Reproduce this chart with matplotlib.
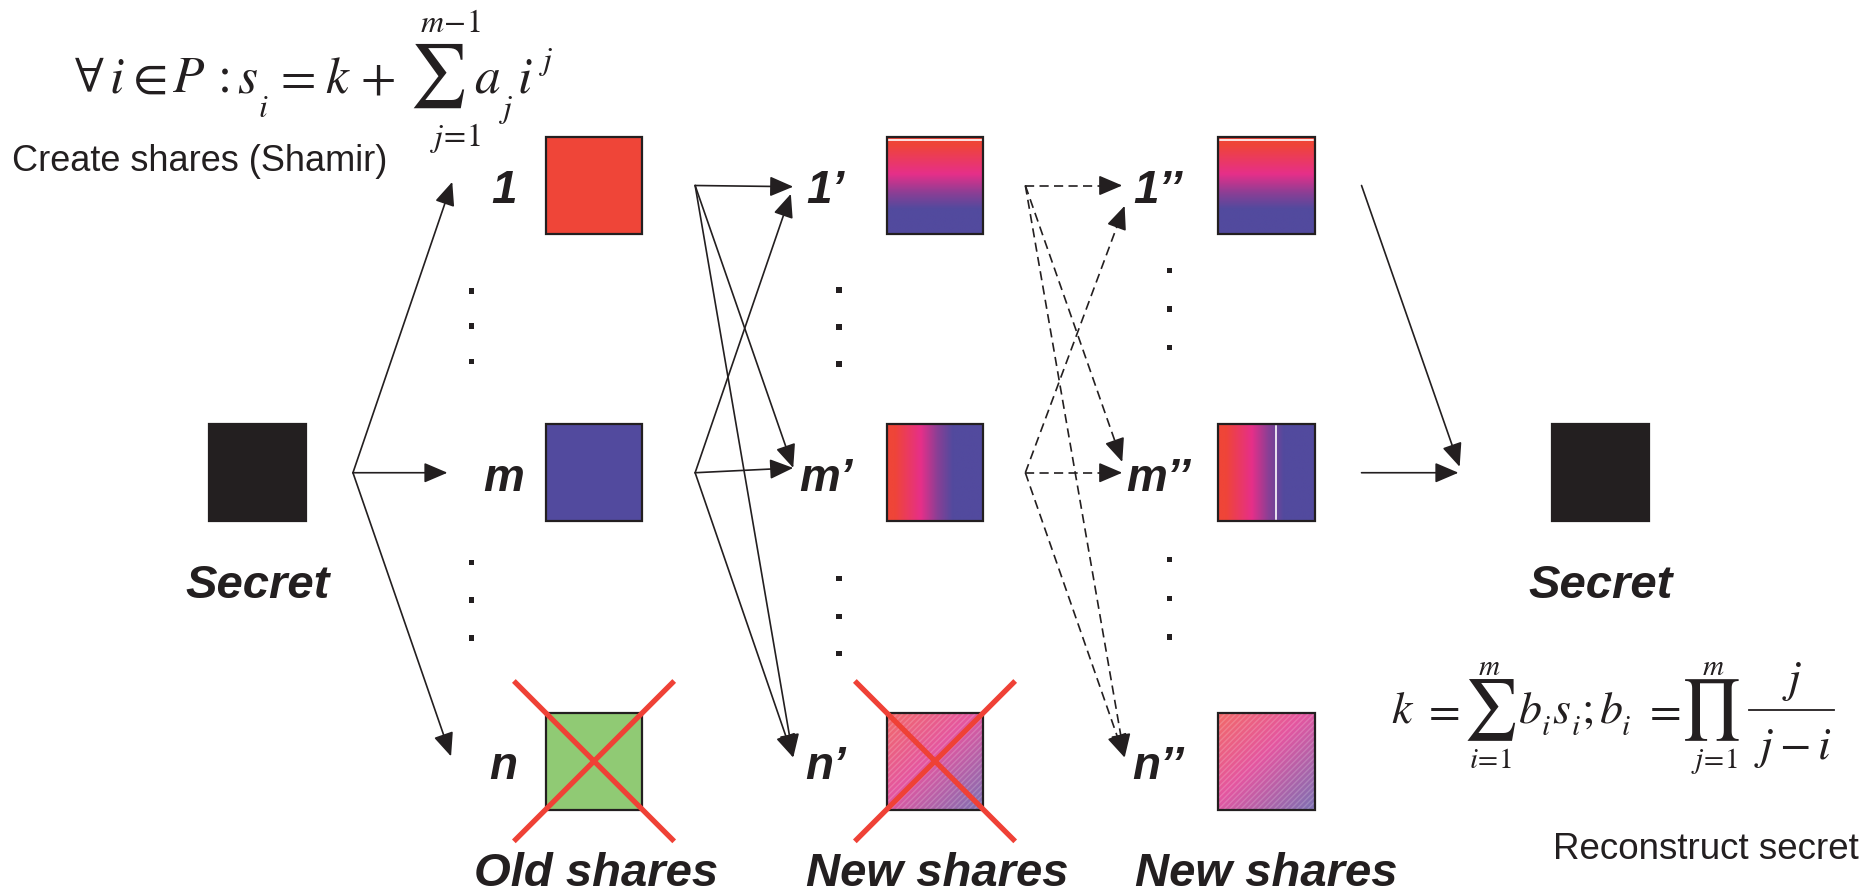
import matplotlib.pyplot as plt
import numpy as np
from matplotlib.patches import Rectangle
from matplotlib.colors import LinearSegmentedColormap
from matplotlib.textpath import TextPath
from matplotlib.font_manager import FontProperties

plt.rcParams['mathtext.fontset'] = 'stix'

# canvas units (reference drawn at 1568 x 747)
W, H = 1568, 747
SQ = 81
PT = 1876 / W * 0.72  # points per canvas unit

row_y = [155, 395, 636]
col_x = [456, 741, 1018]
secret_x = [175, 1297]
col_labels = [["1", "m", "n"], ["1\u2019", "m\u2019", "n\u2019"], ["1\u2019\u2019", "m\u2019\u2019", "n\u2019\u2019"]]
label_x = [421, 690, 968]
dots_x = [394, 701, 977]
dots_y = [[243, 272, 302, 470, 501, 533],
          [242, 273, 304, 483, 515, 546],
          [226, 258, 290, 467, 500, 532]]
group_titles = ["Old shares", "New shares", "New shares"]
group_x = [498, 783, 1058]

ink = "#231f20"
red = "#ef4538"
blue = "#524a9e"
green = "#90ca74"
pink = "#e62f89"
purple = "#8a3f95"
xred = "#ef4136"

fig = plt.figure(figsize=(18.76, 8.94), dpi=100)
ax = fig.add_axes([0, 0, 1, 1])


def square(x, y, face):
    ax.add_patch(Rectangle((x, y), SQ, SQ, facecolor=face, edgecolor=ink, lw=1.6, zorder=3))


def grad_square(x, y, colors, stops, how, white=None, hatch=False):
    cmap = LinearSegmentedColormap.from_list("g", list(zip(stops, colors)))
    t = np.linspace(0, 1, 256)
    if how == "v":
        arr = np.tile(t[:, None], (1, 4))
    elif how == "h":
        arr = np.tile(t[None, :], (4, 1))
    else:
        gx, gy = np.meshgrid(t, t)
        arr = (gx + gy) / 2
    ax.imshow(arr, cmap=cmap, extent=(x, x + SQ, y + SQ, y), origin="upper",
              aspect="auto", interpolation="bilinear", zorder=2)
    if white == "top":
        ax.plot([x + 1.5, x + SQ - 1.5], [y + 2.5, y + 2.5], color="white", lw=1.2, zorder=2.5)
    elif white == "mid":
        ax.plot([x + SQ * 0.6, x + SQ * 0.6], [y + 1.5, y + SQ - 1.5], color="white", lw=1.2, zorder=2.5)
    if hatch:
        ax.add_patch(Rectangle((x, y), SQ, SQ, fill=False, hatch="//////",
                               edgecolor=(1, 1, 1, 0.18), lw=0, zorder=2.6))
    ax.add_patch(Rectangle((x, y), SQ, SQ, fill=False, edgecolor=ink, lw=1.6, zorder=3))


def arrow(p0, p1, dashed=False):
    p0 = np.array(p0, float)
    p1 = np.array(p1, float)
    style = "-|>,head_length=1.45,head_width=0.62"
    props = dict(arrowstyle=style, mutation_scale=10, color=ink, lw=1.2,
                 shrinkA=0, shrinkB=0)
    if dashed:
        d = (p1 - p0) / np.hypot(*(p1 - p0))
        ax.plot([p0[0], p1[0] - d[0] * 10], [p0[1], p1[1] - d[1] * 10], color=ink,
                lw=1.2, dashes=(5.5, 3.2), zorder=4)
        ax.annotate("", xy=p1, xytext=p1 - d * 17, arrowprops=props, zorder=4)
    else:
        ax.annotate("", xy=p1, xytext=p0, arrowprops=props, zorder=4)


def bold(x, y, s, size=33, ha="center"):
    ax.text(x, y, s, fontsize=size, fontweight="bold", fontstyle="italic",
            family="Liberation Sans", color=ink, ha=ha, va="baseline", zorder=5)


def mt(x, y, s, size):
    # one piece of a formula, centred at x on baseline y
    ax.text(x, y, s, fontsize=size, color=ink, ha="center", va="baseline", zorder=5)


def big_op(ch, x, top, bottom):
    # large operator scaled so its ink spans top..bottom
    prop = FontProperties(family="STIXGeneral")
    ext = TextPath((0, 0), ch, size=1, prop=prop).get_extents()
    fs = (bottom - top) * PT / ext.height
    base = bottom + ext.y0 * fs / PT
    ax.text(x, base, ch, fontsize=fs, family="STIXGeneral", color=ink,
            ha="center", va="baseline", zorder=5)


# secret squares
for sx in secret_x:
    square(sx, row_y[1] - SQ / 2, ink)
    bold(sx + SQ / 2, 500, "Secret", size=34)

# column 1: plain shares
square(col_x[0], row_y[0] - SQ / 2, red)
square(col_x[0], row_y[1] - SQ / 2, blue)
square(col_x[0], row_y[2] - SQ / 2, green)

# column 2 and 3: mixed shares
vstops = [0.0, 0.08, 0.38, 0.58, 0.74, 1.0]
vcols = [red, red, pink, purple, blue, blue]
hstops = [0.0, 0.08, 0.35, 0.52, 0.68, 1.0]
hcols = [red, red, pink, purple, blue, blue]
dstops = [0.0, 0.45, 1.0]
dcols = ["#f26a68", "#e456a0", "#7b70b2"]
for c, ex in zip(col_x[1:], [None, "mid"]):
    grad_square(c, row_y[0] - SQ / 2, vcols, vstops, "v", white="top")
    grad_square(c, row_y[1] - SQ / 2, hcols, hstops, "h", white=ex)
    grad_square(c, row_y[2] - SQ / 2, dcols, dstops, "d", hatch=True)

# labels and dots
for k in range(3):
    for r in range(3):
        bold(label_x[k], row_y[r] + 15, col_labels[k][r], size=33)
    for yy in dots_y[k]:
        ax.add_patch(Rectangle((dots_x[k] - 2, yy - 2), 4.5, 4.5, color=ink, lw=0))
    bold(group_x[k], 740, group_titles[k], size=34)

# red crosses over discarded shares
for c in col_x[:2]:
    cx, cy = c + SQ / 2, row_y[2]
    ax.plot([cx - 67, cx + 67], [cy - 67, cy + 67], color=xred, lw=3.8, zorder=6, solid_capstyle="butt")
    ax.plot([cx - 67, cx + 67], [cy + 67, cy - 67], color=xred, lw=3.8, zorder=6, solid_capstyle="butt")

# arrows: secret -> old shares
fork = (295, 395)
for tip in [(378, 152), (374, 395), (377, 632)]:
    arrow(fork, tip)

# old shares -> new shares
tips2 = [(663, 156), (663, 391), (663, 633)]
for src in [(581, 155), (581, 395)]:
    for tip in tips2:
        if src[1] == 395 and tip[1] < 200:
            tip = (661, 162)
        arrow(src, tip)

# new shares -> newer shares (dashed)
tips3 = {155: [(938, 155), (938, 386), (940, 633)],
         395: [(940, 172), (938, 395), (940, 633)]}
for sy, tips in tips3.items():
    for tip in tips:
        arrow((857, sy), tip, dashed=True)

# reconstruct
arrow((1138, 155), (1220, 390))
arrow((1138, 395), (1219, 395))

# share formula
f1, s1 = 37, 23
b1 = 77
for s, x in [(r"$\forall$", 75), (r"$i$", 98), (r"$\in$", 122), (r"$P$", 158),
             (r"$s$", 207), (r"$=$", 246), (r"$k$", 282),
             (r"$+$", 315), (r"$a$", 407), (r"$i$", 439)]:
    mt(x, b1, s, f1)
ax.text(188, b1, ":", fontsize=f1, family="STIXGeneral", color=ink,
        ha="center", va="baseline")
mt(220, 98, r"$i$", s1)
mt(423, 98, r"$j$", s1)
mt(457, 58, r"$j$", s1)
big_op("\u2211", 366, 36, 90)
mt(377, 27, r"$m\!-\!1$", s1)
mt(381, 122, r"$j\!=\!1$", s1)

# reconstruction formula
f2, s2 = 33, 21
b2 = 604
for s, x in [(r"$k$", 1172), (r"$=$", 1204), (r"$b$", 1279), (r"$s$", 1305),
             (r"$b$", 1346), (r"$=$", 1389)]:
    mt(x, b2, s, f2)
ax.text(1327, b2, ";", fontsize=f2, family="STIXGeneral", color=ink,
        ha="center", va="baseline")
for x in [1292, 1317, 1359]:
    mt(x, 614, r"$i$", s2)
big_op("\u2211", 1246, 568, 619)
big_op("\u220f", 1431, 568, 619)
mt(1245, 564, r"$m$", s2)
mt(1246, 642, r"$i\!=\!1$", s2)
mt(1432, 564, r"$m$", s2)
mt(1433, 642, r"$j\!=\!1$", s2)
ax.plot([1462, 1533], [593.5, 593.5], color=ink, lw=1.3)
mt(1498, 578, r"$j$", f2)
mt(1498, 634, r"$j-i$", f2)

# captions
ax.text(10, 143, "Create shares (Shamir)", fontsize=26, family="Liberation Sans",
        color=ink, ha="left", va="baseline")
ax.text(1298, 718, "Reconstruct secret", fontsize=26.5, family="Liberation Sans",
        color=ink, ha="left", va="baseline")

ax.set_xlim(0, W)
ax.set_ylim(H, 0)
ax.axis("off")
fig.savefig("out.png", dpi=100, facecolor="white")
